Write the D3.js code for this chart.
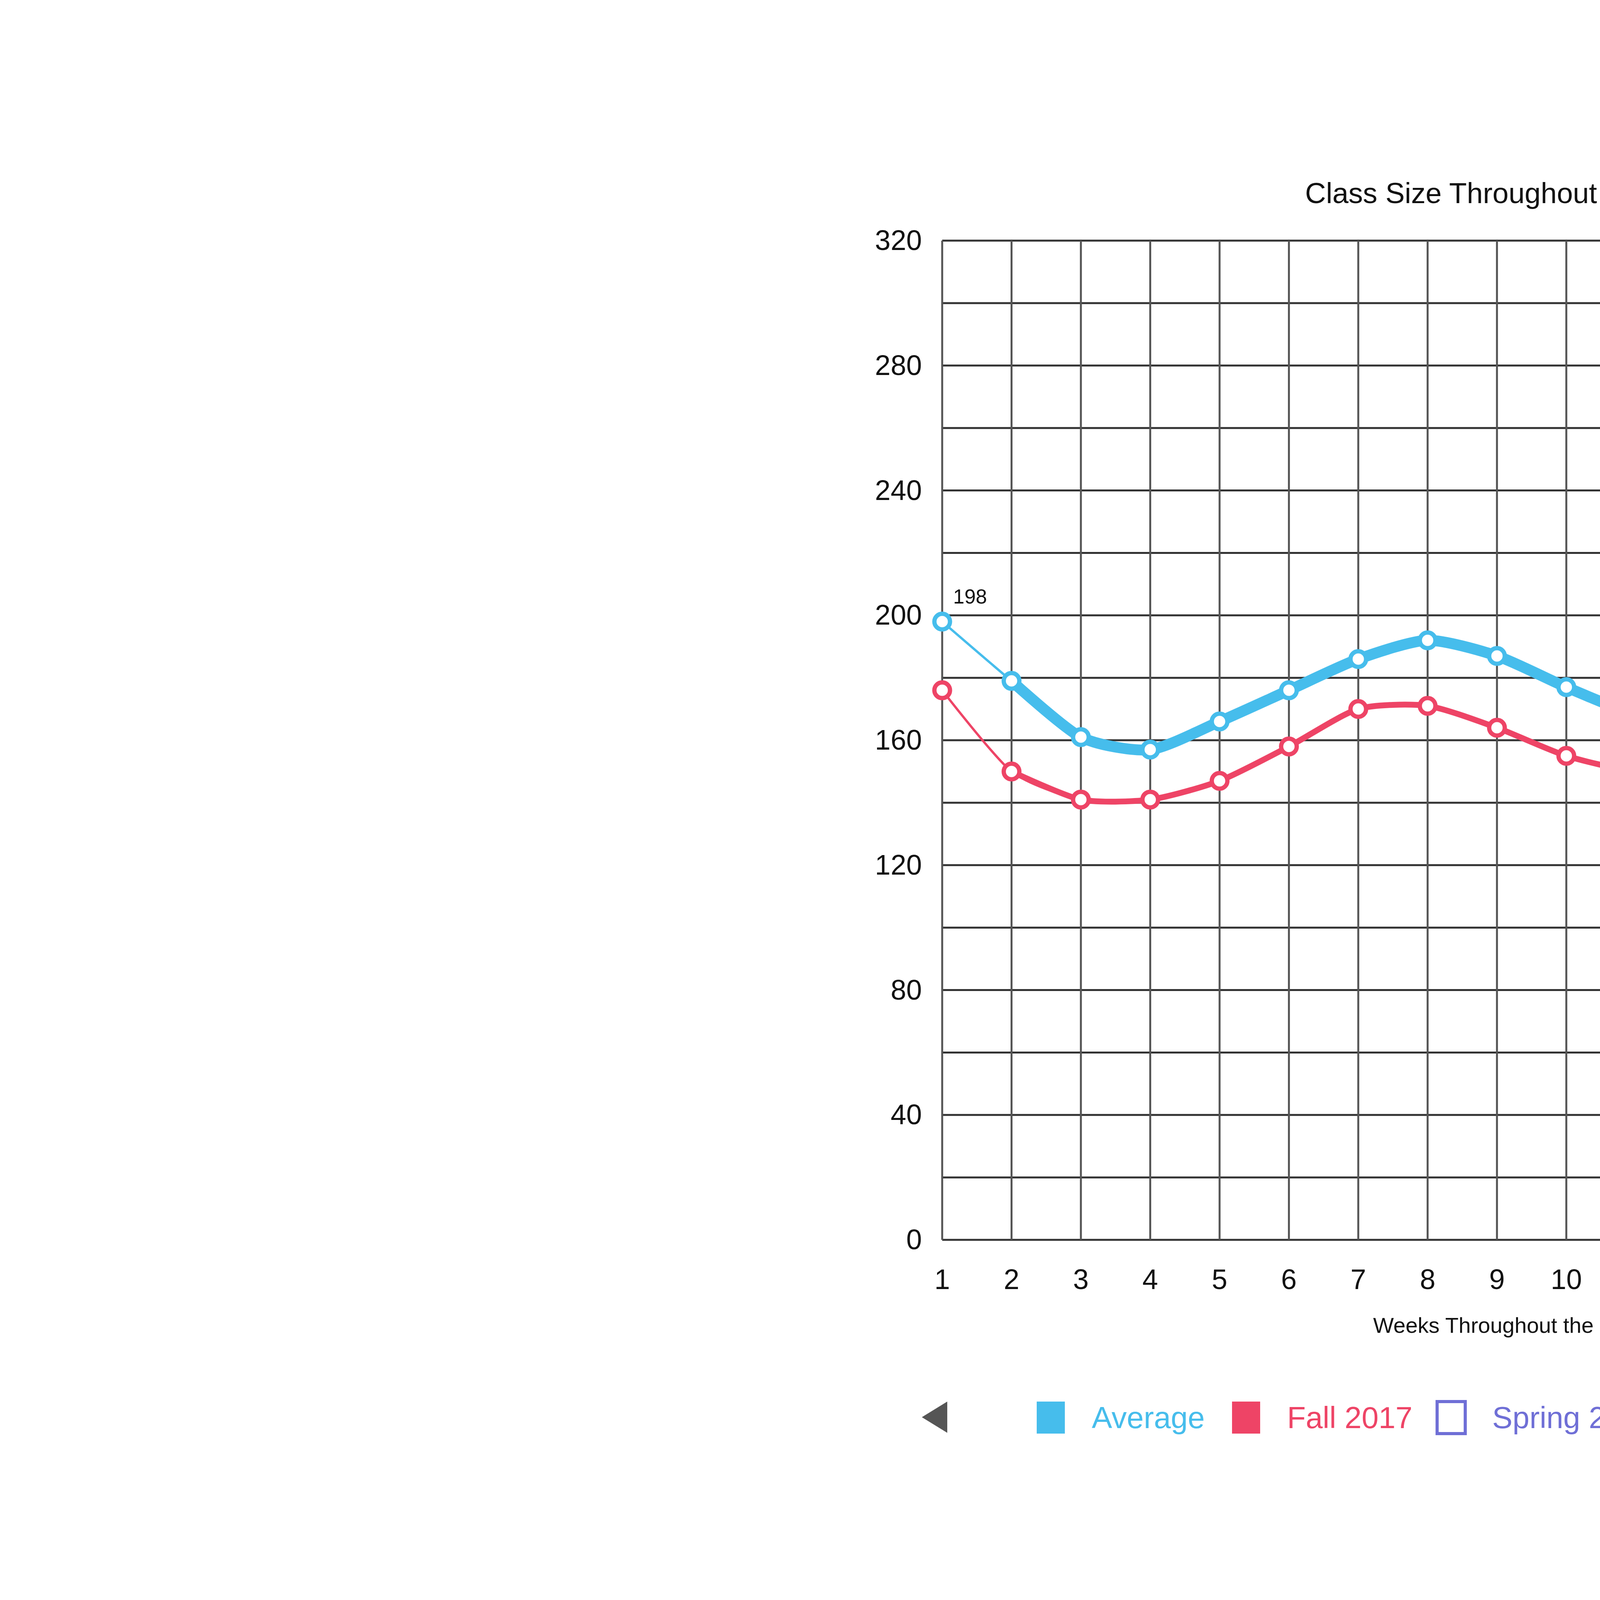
<!DOCTYPE html>
<html>
<head>
<meta charset="utf-8">
<script src="https://cdn.jsdelivr.net/npm/d3@7"></script>
<style>
  body { margin: 0; background: #fff; }
  text { font-family: "Liberation Sans Narrow", "Arial Narrow", "Liberation Sans", sans-serif; }
</style>
</head>
<body>
<svg id="chart" width="7912" height="4136"></svg>
<script>
const weeks = d3.range(1, 19);
const averageValues = [198, 179, 161, 157, 166, 176, 186, 192, 187, 177, 168, 162, 167, 186, 209, 212, 203, 199];
const fall2017Values = [176, 150, 141, 141, 147, 158, 170, 171, 164, 155, 150, 150, 158, 174, 192, 199, 192, 180];
const yTicks = [0, 40, 80, 120, 160, 200, 240, 280, 320];
const legendItems = [
  { name: "Average", color: "#46bdec", filled: true, x: 2690 },
  { name: "Fall 2017", color: "#ee4466", filled: true, x: 3190 },
  { name: "Spring 2016", color: "#6f6fd6", filled: false, x: 3715 },
  { name: "Fall 2016", color: "#4c9a3c", filled: false, x: 4300 },
  { name: "Spring 2016", color: "#d9883a", filled: false, x: 4780 }
];

const svg = d3.select("#chart");
const plotLeft = 2412, plotRight = 5430, plotTop = 616, plotBottom = 3174;

const x = d3.scaleLinear().domain([1, 18]).range([plotLeft, plotRight]);
const y = d3.scaleLinear().domain([0, 320]).range([plotBottom, plotTop]);

// grid
svg.append("g").selectAll("line").data(d3.range(0, 321, 20)).join("line")
  .attr("x1", plotLeft).attr("x2", plotRight)
  .attr("y1", d => y(d)).attr("y2", d => y(d))
  .attr("stroke", "#333").attr("stroke-width", 5);
svg.append("g").selectAll("line").data(weeks).join("line")
  .attr("y1", plotTop).attr("y2", plotBottom)
  .attr("x1", d => x(d)).attr("x2", d => x(d))
  .attr("stroke", "#555").attr("stroke-width", 5);

// axes labels
svg.append("g").selectAll("text").data(yTicks).join("text")
  .attr("x", 2360).attr("y", d => y(d) + 24)
  .attr("text-anchor", "end").attr("font-size", 72).attr("fill", "#111")
  .text(d => d);
svg.append("g").selectAll("text").data(weeks).join("text")
  .attr("x", d => x(d)).attr("y", 3300)
  .attr("text-anchor", "middle").attr("font-size", 72).attr("fill", "#111")
  .text(d => d);

svg.append("text").attr("x", 3945).attr("y", 520).attr("text-anchor", "middle")
  .attr("font-size", 74).attr("fill", "#111").text("Class Size Throughout the Semester");
svg.append("text").attr("x", 3925).attr("y", 3412).attr("text-anchor", "middle")
  .attr("font-size", 56).attr("fill", "#111").text("Weeks Throughout the Semester");

function drawSeries(values, color, thick) {
  const pts = values.map((v, i) => [x(weeks[i]), y(v)]);
  const line = d3.line().curve(d3.curveCardinal.tension(0.3));
  svg.append("path").attr("d", line(pts)).attr("fill", "none")
    .attr("stroke", color).attr("stroke-width", 6);
  svg.append("path").attr("d", line(pts.slice(1, 17))).attr("fill", "none")
    .attr("stroke", color).attr("stroke-width", thick);
  svg.append("g").selectAll("circle").data(pts).join("circle")
    .attr("cx", d => d[0]).attr("cy", d => d[1]).attr("r", 20)
    .attr("fill", "#fff").attr("stroke", color).attr("stroke-width", 11);
}
drawSeries(fall2017Values, "#ee4466", 15);
drawSeries(averageValues, "#46bdec", 28);

svg.append("text").attr("x", 2440).attr("y", 1545).attr("font-size", 52)
  .attr("fill", "#111").text(averageValues[0]);

// legend
const ly = 3628;
svg.append("path").attr("d", `M2425,${ly - 40} L2425,${ly + 40} L2360,${ly} Z`).attr("fill", "#555");
svg.append("path").attr("d", `M5410,${ly - 40} L5410,${ly + 40} L5475,${ly} Z`).attr("fill", "#555");
const lg = svg.append("g").selectAll("g").data(legendItems).join("g");
lg.append("rect")
  .attr("x", d => d.x - 36).attr("y", ly - 40).attr("width", 72).attr("height", 82)
  .attr("fill", d => d.filled ? d.color : "#fff")
  .attr("stroke", d => d.color).attr("stroke-width", d => d.filled ? 0 : 8);
lg.append("text")
  .attr("x", d => d.x + 105).attr("y", ly + 28).attr("font-size", 78)
  .attr("fill", d => d.color).text(d => d.name);
</script>
</body>
</html>
